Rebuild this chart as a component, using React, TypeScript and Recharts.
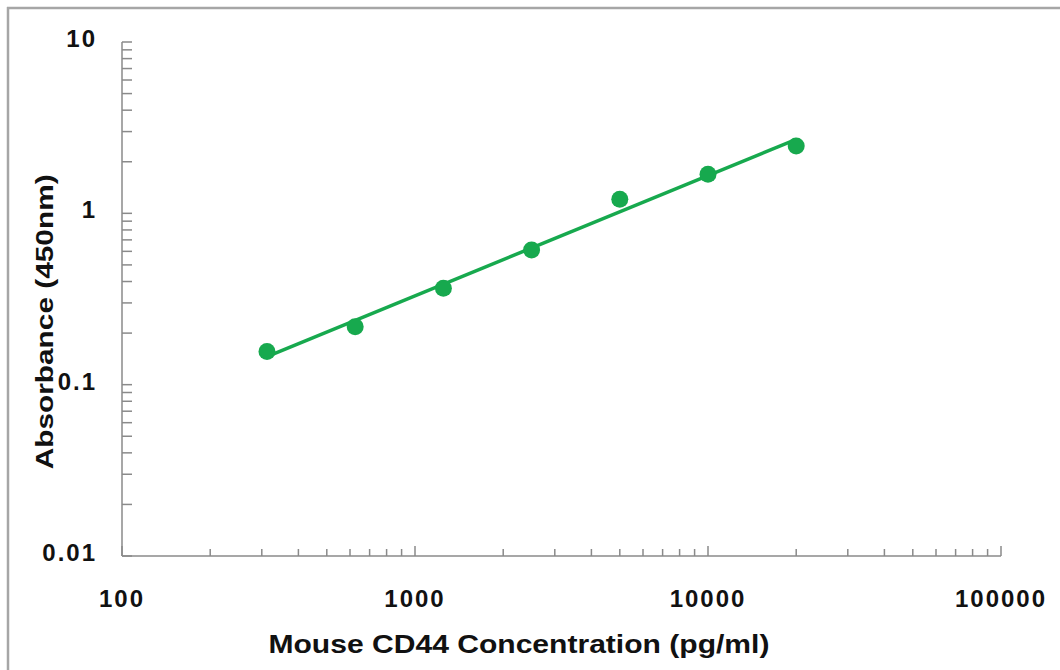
import React from "react";
import { ScatterChart, Scatter, XAxis, YAxis } from "recharts";

const concentrations = [312.5, 625, 1250, 2500, 5000, 10000, 20000];
const absorbance = [0.156, 0.218, 0.365, 0.611, 1.21, 1.69, 2.47];
const fitX = [312.5, 20000];
const fitY = [0.146, 2.7];

const xMajor = [100, 1000, 10000, 100000];
const yMajor = [0.01, 0.1, 1, 10];
const minorMultipliers = [2, 3, 4, 5, 6, 7, 8, 9];

const xTickLabels = ["100", "1000", "10000", "100000"];
const yTickLabels = ["0.01", "0.1", "1", "10"];

const points = concentrations.map((c, i) => ({ x: c, y: absorbance[i] }));
const fitLine = fitX.map((c, i) => ({ x: c, y: fitY[i] }));

const buildTicks = (majors: number[]) => {
  const out: number[] = [];
  majors.forEach((m, i) => {
    out.push(m);
    if (i < majors.length - 1) minorMultipliers.forEach((k) => out.push(m * k));
  });
  return out;
};
const xTicks = buildTicks(xMajor);
const yTicks = buildTicks(yMajor);

const GREEN = "#17a94e";
const AXIS = "#8a8a8a";
const FONT = "'Liberation Sans', Arial, sans-serif";

const findMajor = (v: number, majors: number[]) =>
  majors.findIndex((m) => Math.abs(v - m) / m < 1e-6);

const XTick = (props: any) => {
  const { x, y, payload } = props;
  const idx = findMajor(payload.value, xMajor);
  const major = idx >= 0;
  return (
    <g>
      <line x1={x} y1={y} x2={x} y2={y - (major ? 10 : 7)} stroke={AXIS} strokeWidth={1.5} />
      {major && (
        <text
          x={x}
          y={y + 51}
          textAnchor="middle"
          fontFamily={FONT}
          fontWeight="bold"
          fontSize={24}
          letterSpacing={2}
          fill="#111"
        >
          {xTickLabels[idx]}
        </text>
      )}
    </g>
  );
};

const YTick = (props: any) => {
  const { x, y, payload } = props;
  const idx = findMajor(payload.value, yMajor);
  const major = idx >= 0;
  return (
    <g>
      <line x1={x} y1={y} x2={x + 10} y2={y} stroke={AXIS} strokeWidth={1.5} />
      {major && (
        <text
          x={x - 25}
          y={y + 5}
          textAnchor="end"
          fontFamily={FONT}
          fontWeight="bold"
          fontSize={24}
          letterSpacing={2}
          fill="#111"
        >
          {yTickLabels[idx]}
        </text>
      )}
    </g>
  );
};

const Dot = (props: any) => {
  const { cx, cy } = props;
  return <circle cx={cx} cy={cy} r={8.5} fill={GREEN} />;
};

const NoShape = () => <g />;

const XTitle = (props: any) => {
  const { viewBox } = props;
  const cx = viewBox.x + viewBox.width * 0.4516;
  return (
    <text
      x={cx}
      y={viewBox.y + 97}
      textAnchor="middle"
      fontFamily={FONT}
      fontWeight="bold"
      fontSize={26}
      textLength={501}
      lengthAdjust="spacingAndGlyphs"
      fill="#111"
    >
      Mouse CD44 Concentration (pg/ml)
    </text>
  );
};

const YTitle = (props: any) => {
  const { viewBox } = props;
  const cy = viewBox.y + viewBox.height * 0.5445;
  const cx = viewBox.x + viewBox.width - 69;
  return (
    <text
      x={cx}
      y={cy}
      transform={`rotate(-90 ${cx} ${cy})`}
      textAnchor="middle"
      fontFamily={FONT}
      fontWeight="bold"
      fontSize={24}
      textLength={295}
      lengthAdjust="spacingAndGlyphs"
      fill="#111"
    >
      Absorbance (450nm)
    </text>
  );
};

export default function App() {
  return (
    <div
      style={{
        position: "absolute",
        left: 0,
        top: 0,
        width: 1060,
        height: 670,
        background: "#fff",
        overflow: "hidden",
      }}
    >
      <svg
        width={1060}
        height={670}
        style={{ position: "absolute", left: 0, top: 0 }}
      >
        <line x1={7} y1={8} x2={1060} y2={8} stroke="#a6a6a6" strokeWidth={2.5} />
        <line x1={8} y1={7} x2={8} y2={670} stroke="#a6a6a6" strokeWidth={2.5} />
      </svg>
      <div style={{ position: "absolute", left: 0, top: 0 }}>
        <ScatterChart
          width={1060}
          height={670}
          margin={{ top: 42, right: 59, bottom: 113, left: 121 }}
        >
          <XAxis
            type="number"
            dataKey="x"
            scale="log"
            domain={[100, 100000]}
            ticks={xTicks}
            interval={0}
            allowDataOverflow
            height={1}
            tickSize={0}
            tickMargin={0}
            tickLine={false}
            stroke={AXIS}
            strokeWidth={1.5}
            tick={<XTick />}
            label={<XTitle />}
          />
          <YAxis
            type="number"
            dataKey="y"
            scale="log"
            domain={[0.01, 10]}
            ticks={yTicks}
            interval={0}
            allowDataOverflow
            width={1}
            tickSize={0}
            tickMargin={0}
            tickLine={false}
            stroke={AXIS}
            strokeWidth={1.5}
            tick={<YTick />}
            label={<YTitle />}
          />
          <Scatter
            data={fitLine}
            line={{ stroke: GREEN, strokeWidth: 3.5 }}
            shape={<NoShape />}
            isAnimationActive={false}
          />
          <Scatter
            data={points}
            fill={GREEN}
            shape={<Dot />}
            isAnimationActive={false}
          />
        </ScatterChart>
      </div>
    </div>
  );
}
